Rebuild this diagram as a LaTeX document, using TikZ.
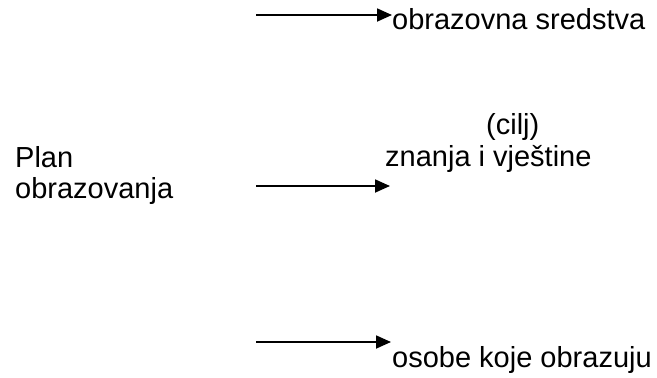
\documentclass[tikz,border=0pt]{standalone}
\usepackage{fontspec}
\setmainfont{Liberation Sans}
\usetikzlibrary{arrows.meta}

\begin{document}
\begin{tikzpicture}[x = 1pt, y = -1pt,
		every node/.style = {inner sep = 0pt, anchor = base west, font = \fontsize{29}{31}\selectfont},
		pointer/.style = {line width = 1.8pt, -{Triangle[length = 15pt, width = 13pt]}}]
	\useasboundingbox (0,0) rectangle (657,378);
	\begin{scope}
		\node (plan) [align = left] at (15,198) {Plan\\obrazovanja};
		\node (cilj) at (486,134) {(cilj)};
		\node (znanja) at (385,166) {znanja i vještine};
		\node (sredstva) at (392,29) {obrazovna sredstva};
		\node (osobe) at (392,367) {osobe koje obrazuju};
	\end{scope}
	\begin{scope}
		\coordinate (top) at (256,15);
		\coordinate (mid) at (256,186);
		\coordinate (low) at (256,342);
		\coordinate (mid end) at (390,186);
		\coordinate (low end) at (391,342);
	\end{scope}
	\begin{scope}
		\draw [pointer] (top) -- (top -| sredstva.west);
		\draw [pointer] (mid) -- (mid end);
		\draw [pointer] (low) -- (low end);
	\end{scope}
\end{tikzpicture}
\end{document}
